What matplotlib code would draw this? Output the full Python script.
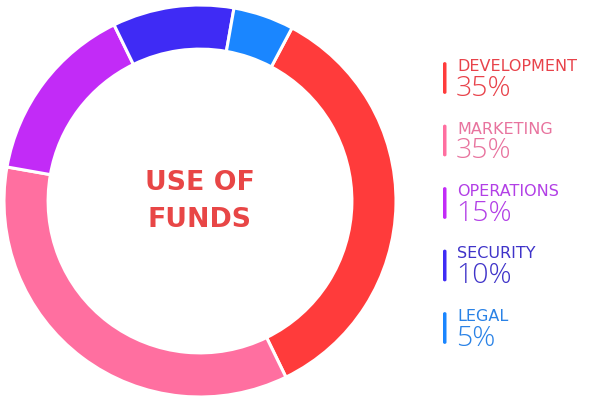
import matplotlib
matplotlib.use("Agg")
import matplotlib.pyplot as plt
from matplotlib.patches import FancyBboxPatch

categories = ["DEVELOPMENT", "MARKETING", "OPERATIONS", "SECURITY", "LEGAL"]
values = [35, 35, 15, 10, 5]
wedge_colors = ["#FF3B3B", "#FF6FA0", "#C22BF7", "#3F2BF5", "#1A86FF"]
text_colors = ["#E8424A", "#E8739E", "#B23FE6", "#3F33C9", "#2A82E6"]
center_title = "USE OF\nFUNDS"

W, H = 600, 402
fig = plt.figure(figsize=(W / 100, H / 100), dpi=100)
fig.patch.set_facecolor("white")

cx, cy, R = 200, 202, 196
ax = fig.add_axes([(cx - R) / W, (H - cy - R) / H, 2 * R / W, 2 * R / H])
ax.pie(values, colors=wedge_colors, startangle=62, counterclock=False,
       radius=1.0, wedgeprops=dict(width=0.225, edgecolor="white", linewidth=2.2))
ax.set_xlim(-1.0, 1.0)
ax.set_ylim(-1.0, 1.0)
ax.set_aspect("equal")
ax.axis("off")
ax.text(0.0, 0.0, center_title, ha="center", va="center", fontsize=19.3,
        fontweight="bold", color="#E84646", family="DejaVu Sans", linespacing=1.55)

# legend
y0, dy = 71, 62.5
for i, (cat, val) in enumerate(zip(categories, values)):
    ly = y0 + i * dy
    bar = FancyBboxPatch((443 / W, (H - ly - 24) / H), 3.5 / W, 32 / H,
                         boxstyle="round,pad=0.0,rounding_size=0.004",
                         transform=fig.transFigure, facecolor=wedge_colors[i],
                         edgecolor="none")
    fig.patches.append(bar)
    fig.text(457 / W, (H - ly) / H, cat, ha="left", va="baseline", fontsize=11.5,
             color=text_colors[i], family="DejaVu Sans")
    fig.text(456 / W, (H - ly - 25) / H, f"{val}%", ha="left", va="baseline",
             fontsize=20.5, color=text_colors[i], family="Open Sans", fontweight="light")

fig.savefig("out.png", dpi=100, facecolor="white")
